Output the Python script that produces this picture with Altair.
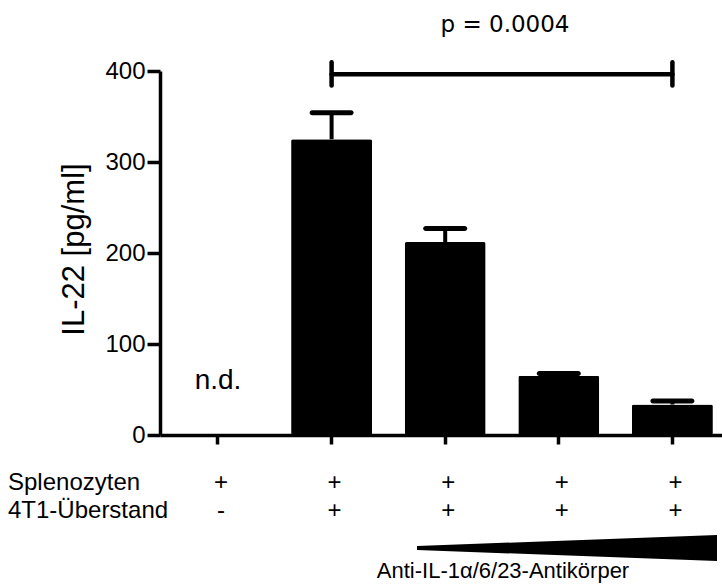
import altair as alt
import pandas as pd

# Groups and measured IL-22 (mean and SEM, pg/ml)
groups = ["G1", "G2", "G3", "G4", "G5"]
il22_mean = [0, 325, 212, 65, 33.5]
il22_sem = [0, 29, 15, 2.5, 4]
detected = [False, True, True, True, True]

# Treatment table below the bars
splenozyten = ["+", "+", "+", "+", "+"]
ueberstand = ["-", "+", "+", "+", "+"]
row_labels = ["Splenozyten", "4T1-Überstand"]

y_ticks = [0, 100, 200, 300, 400]
p_label = "p = 0.0004"
bracket_from, bracket_to = "G2", "G5"
bracket_y, bracket_lo, bracket_hi = 396.5, 384, 409.5
nd_y = 59

# Antibody dose wedge (relative dose, half thickness)
wedge_dose = [0, 1]
wedge_half = [0.15, 1.0]
antibody_label = "Anti-IL-1α/6/23-Antikörper"

FONT = "Liberation Sans, Arial, Helvetica, sans-serif"

df = pd.DataFrame({
    "group": groups,
    "mean": il22_mean,
    "upper": [m + s for m, s in zip(il22_mean, il22_sem)],
    "detected": detected,
    "spleno": splenozyten,
    "ueber": ueberstand,
})
df_det = df[df["detected"]]
df_nd = df[~df["detected"]]

xscale = alt.Scale(domain=groups, paddingInner=0.287, paddingOuter=0.117, align=0.658)
yscale = alt.Scale(domain=[0, 400], nice=False)

X = alt.X("group:N", scale=xscale, sort=groups,
          axis=alt.Axis(labels=False, title=None, tickSize=9, tickWidth=3.5,
                        domainWidth=3.5, domainColor="black", tickColor="black"))
Y = alt.Y("mean:Q", scale=yscale,
          axis=alt.Axis(values=y_ticks, title="IL-22 [pg/ml]", grid=False,
                        labelFontSize=24, labelFont=FONT, labelColor="black",
                        labelPadding=2, tickSize=13, tickWidth=3.5, tickColor="black",
                        domainWidth=3.5, domainColor="black",
                        titleFont=FONT, titleFontSize=31, titleFontWeight="normal",
                        titleColor="black", titleAngle=270, titleX=-86, titleY=178,
                        titleAlign="center", titleBaseline="middle"))

base = alt.Chart(df_det)

bars = base.mark_bar(color="black", cornerRadius=2).encode(x=X, y=Y)

stems = base.mark_rule(color="black", strokeWidth=4).encode(
    x=alt.X("group:N", scale=xscale, sort=groups),
    y=alt.Y("mean:Q", scale=yscale),
    y2="upper:Q",
)

caps = base.mark_tick(color="black", thickness=5, size=44, cornerRadius=2.5, opacity=1).encode(
    x=alt.X("group:N", scale=xscale, sort=groups),
    y=alt.Y("upper:Q", scale=yscale),
)

nd = alt.Chart(df_nd).mark_text(text="n.d.", fontSize=28, font=FONT, color="black",
                                baseline="middle").encode(
    x=alt.X("group:N", scale=xscale, sort=groups),
    y=alt.datum(nd_y),
)

bracket_df = pd.DataFrame({"start": [bracket_from], "end": [bracket_to]})
bracket = alt.Chart(bracket_df).mark_rule(color="black", strokeWidth=4.5, strokeCap="round").encode(
    x=alt.X("start:N", scale=xscale, sort=groups),
    x2="end:N",
    y=alt.datum(bracket_y),
)

ends_df = pd.DataFrame({"group": [bracket_from, bracket_to]})
bracket_ends = alt.Chart(ends_df).mark_rule(color="black", strokeWidth=4.5, strokeCap="round").encode(
    x=alt.X("group:N", scale=xscale, sort=groups),
    y=alt.datum(bracket_lo),
    y2=alt.datum(bracket_hi),
)

p_text = alt.Chart(bracket_df).mark_text(
    text=p_label, fontSize=23, font="DejaVu Sans", color="black", baseline="middle"
).encode(x=alt.value(345), y=alt.value(-46))

table_font = dict(fontSize=24, font=FONT, color="black", baseline="middle")
row1 = alt.Chart(df).mark_text(dx=3, **table_font).encode(
    x=alt.X("group:N", scale=xscale, sort=groups), y=alt.value(412), text="spleno:N")
row2 = alt.Chart(df).mark_text(dx=3, **table_font).encode(
    x=alt.X("group:N", scale=xscale, sort=groups), y=alt.value(440), text="ueber:N")

labels_df = pd.DataFrame({"label": row_labels, "ypix": [412, 440]})
row_titles = alt.Chart(labels_df).mark_text(align="left", **table_font).encode(
    x=alt.value(-152), y=alt.Y("ypix:Q", scale=None), text="label:N")

main = alt.layer(bars, stems, caps, nd, bracket, bracket_ends, p_text, row1, row2, row_titles)

wedge_df = pd.DataFrame({
    "dose": wedge_dose,
    "lo": [-h for h in wedge_half],
    "hi": wedge_half,
})
wedge = alt.Chart(wedge_df).mark_area(color="black", opacity=1).encode(
    x=alt.X("dose:Q", scale=alt.Scale(domain=[0, 1], range=[257, 557]), axis=None),
    y=alt.Y("lo:Q", scale=alt.Scale(domain=[-1, 1], range=[490, 464]), axis=None),
    y2="hi:Q",
)

wedge_text = alt.Chart(wedge_df.head(1)).mark_text(
    text=antibody_label, fontSize=22, font=FONT, color="black", baseline="middle"
).encode(x=alt.value(343), y=alt.value(500))

chart = alt.layer(main, wedge, wedge_text).resolve_scale(
    x="independent", y="independent"
).properties(
    width=562, height=364,
    autosize=alt.AutoSizeParams(type="none"),
    padding={"left": 160, "top": 71, "right": 0, "bottom": 150},
    background="white",
).configure_view(stroke=None)

chart.save("out.html", embed_options={"renderer": "svg", "actions": False})
